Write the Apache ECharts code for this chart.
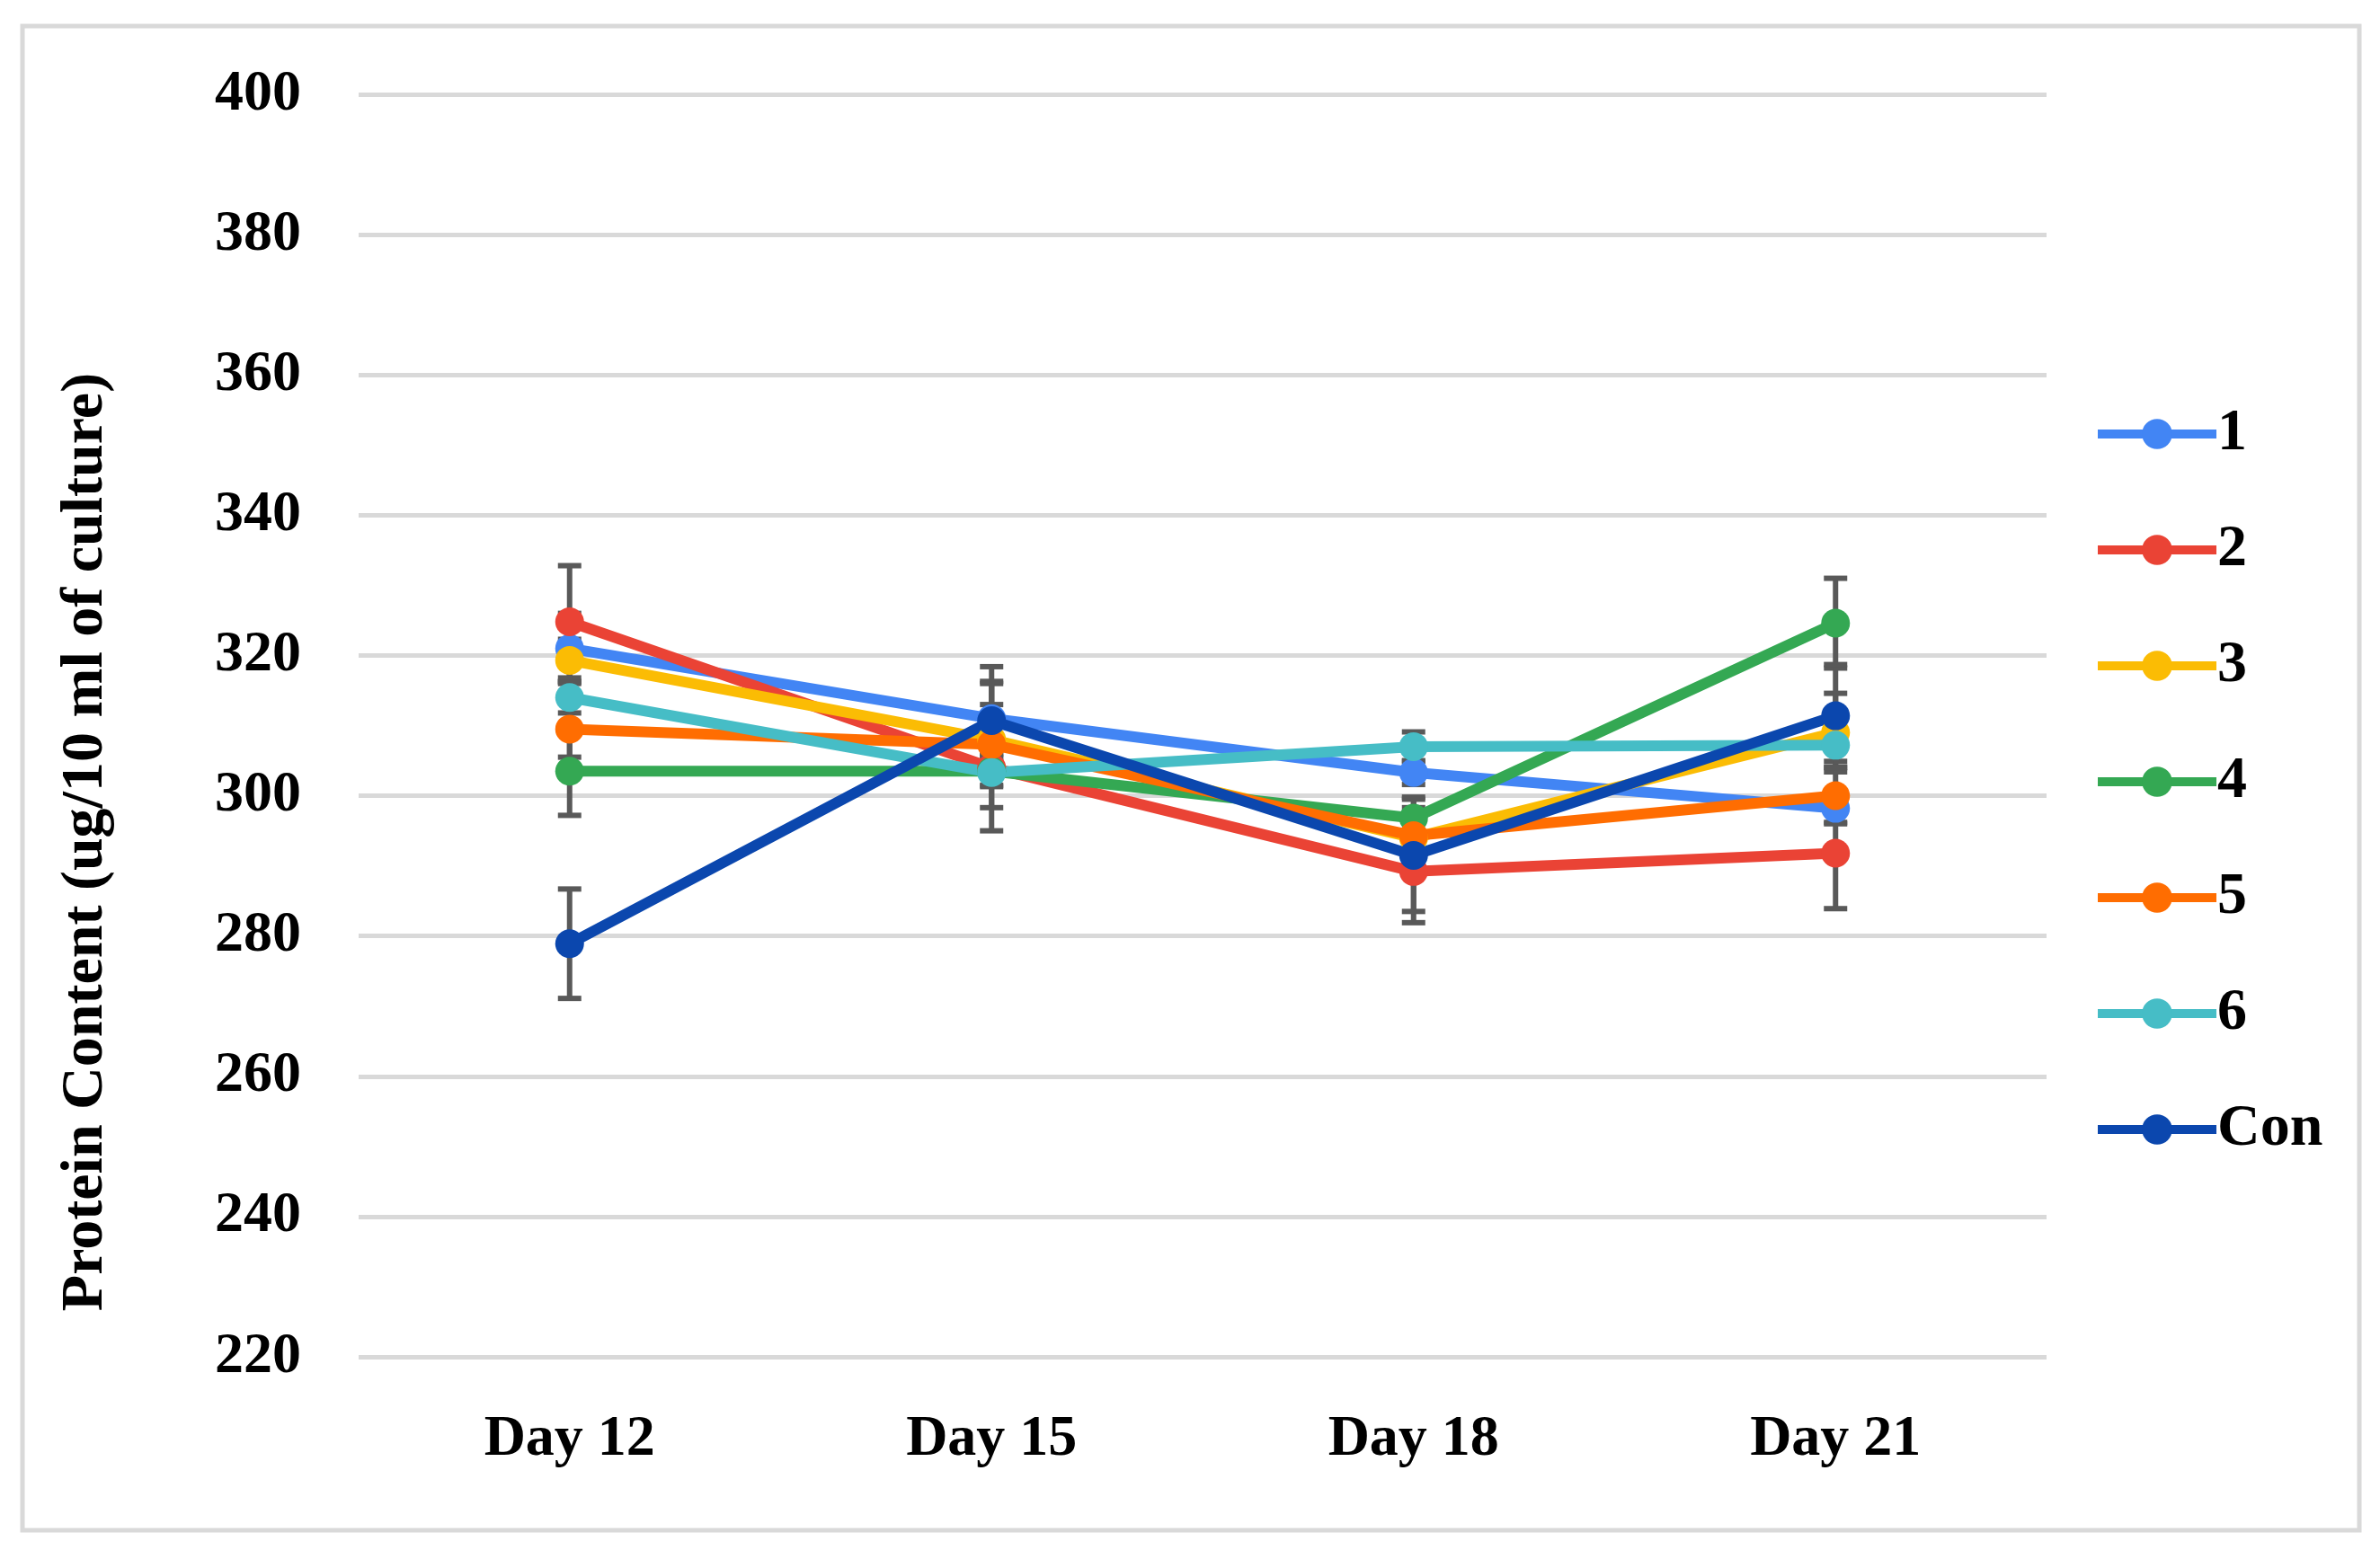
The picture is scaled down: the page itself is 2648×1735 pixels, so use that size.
<!DOCTYPE html>
<html>
<head>
<meta charset="utf-8">
<script src="https://cdn.jsdelivr.net/npm/echarts@6/dist/echarts.min.js"></script>
<style>
  html, body { margin: 0; padding: 0; background: #fff; }
  #chart { width: 2648px; height: 1735px; }
</style>
</head>
<body>
<div id="chart"></div>
<script>
// ---- data ----
const days = ['Day 12', 'Day 15', 'Day 18', 'Day 21'];
const seriesNames = ['1', '2', '3', '4', '5', '6', 'Con'];
const v1 = [321.0, 311.0, 303.3, 298.2];
const v2 = [324.8, 304.0, 289.2, 291.8];
const v3 = [319.3, 308.0, 294.0, 309.0];
const v4 = [303.5, 303.5, 296.8, 324.6];
const v5 = [309.5, 307.3, 294.3, 300.0];
const v6 = [314.0, 303.3, 307.0, 307.2];
const vCon = [278.9, 310.7, 291.5, 311.4];
// error bar half-lengths
const e1 = [5.0, 5.0, 1.7, 2.0];
const e2 = [8.0, 9.0, 7.3, 7.9];
const e3 = [3.0, 2.0, 3.0, 5.6];
const e4 = [6.3, 2.0, 3.0, 6.4];
const e5 = [4.0, 9.0, 4.0, 4.0];
const e6 = [2.2, 2.0, 2.1, 2.3];
const eCon = [7.8, 7.7, 8.0, 7.3];
const yTicks = { min: 220, max: 400, interval: 20 };
const yTitle = 'Protein Content (ug/10 ml of culture)';

const values = [v1, v2, v3, v4, v5, v6, vCon];
const errors = [e1, e2, e3, e4, e5, e6, eCon];
const colors = ['#4285F4', '#EA4335', '#FBBC04', '#34A853', '#FF6D01', '#46BDC6', '#0B47AE'];

const font = 'Liberation Serif';

const errData = [];
values.forEach((vals, i) => {
  vals.forEach((v, j) => {
    errData.push([j, v - errors[i][j], v + errors[i][j]]);
  });
});

const lineSeries = values.map((vals, i) => ({
  name: seriesNames[i],
  type: 'line',
  data: vals,
  z: 3,
  symbol: 'circle',
  symbolSize: 32,
  lineStyle: { color: colors[i], width: 12 },
  itemStyle: { color: colors[i] },
  emphasis: { disabled: true }
}));

const errSeries = {
  type: 'custom',
  z: 2,
  data: errData,
  encode: { x: 0, y: [1, 2] },
  renderItem: function (params, api) {
    const x = api.value(0);
    const lo = api.coord([x, api.value(1)]);
    const hi = api.coord([x, api.value(2)]);
    const hw = 13;
    const style = { stroke: '#595959', lineWidth: 6 };
    return {
      type: 'group',
      children: [
        { type: 'line', shape: { x1: lo[0], y1: lo[1], x2: hi[0], y2: hi[1] }, style: style },
        { type: 'line', shape: { x1: lo[0] - hw, y1: lo[1], x2: lo[0] + hw, y2: lo[1] }, style: style },
        { type: 'line', shape: { x1: hi[0] - hw, y1: hi[1], x2: hi[0] + hw, y2: hi[1] }, style: style }
      ]
    };
  }
};

const chart = echarts.init(document.getElementById('chart'), null, { renderer: 'canvas' });
chart.setOption({
  animation: false,
  backgroundColor: '#ffffff',
  graphic: [{
    type: 'rect',
    shape: { x: 25, y: 29, width: 2600, height: 1674 },
    style: { stroke: '#d9d9d9', lineWidth: 5, fill: 'none' },
    silent: true
  }, {
    type: 'text',
    x: 96,
    y: 937,
    rotation: Math.PI / 2,
    silent: true,
    style: {
      text: yTitle,
      align: 'center',
      verticalAlign: 'middle',
      fontFamily: font,
      fontWeight: 'bold',
      fontSize: 66,
      fill: '#000'
    }
  }],
  grid: { left: 399, right: 371, top: 105, bottom: 225 },
  legend: {
    orient: 'vertical',
    left: 2324,
    top: 445,
    itemWidth: 132,
    itemHeight: 42,
    itemGap: 63,
    data: seriesNames,
    lineStyle: { width: 10 },
    textStyle: { fontFamily: font, fontWeight: 'bold', fontSize: 66, color: '#000', padding: [0, 0, 0, -4] }
  },
  xAxis: {
    type: 'category',
    data: days,
    boundaryGap: true,
    axisLine: { show: false },
    axisTick: { show: false },
    axisLabel: { fontFamily: font, fontWeight: 'bold', fontSize: 64, color: '#000', margin: 60 }
  },
  yAxis: {
    type: 'value',
    min: yTicks.min,
    max: yTicks.max,
    interval: yTicks.interval,
    axisLine: { show: false },
    axisTick: { show: false },
    axisLabel: { fontFamily: font, fontWeight: 'bold', fontSize: 64, color: '#000', margin: 64 },
    splitLine: { lineStyle: { color: '#d9d9d9', width: 5 } }
  },
  series: [errSeries].concat(lineSeries)
});
</script>
</body>
</html>
